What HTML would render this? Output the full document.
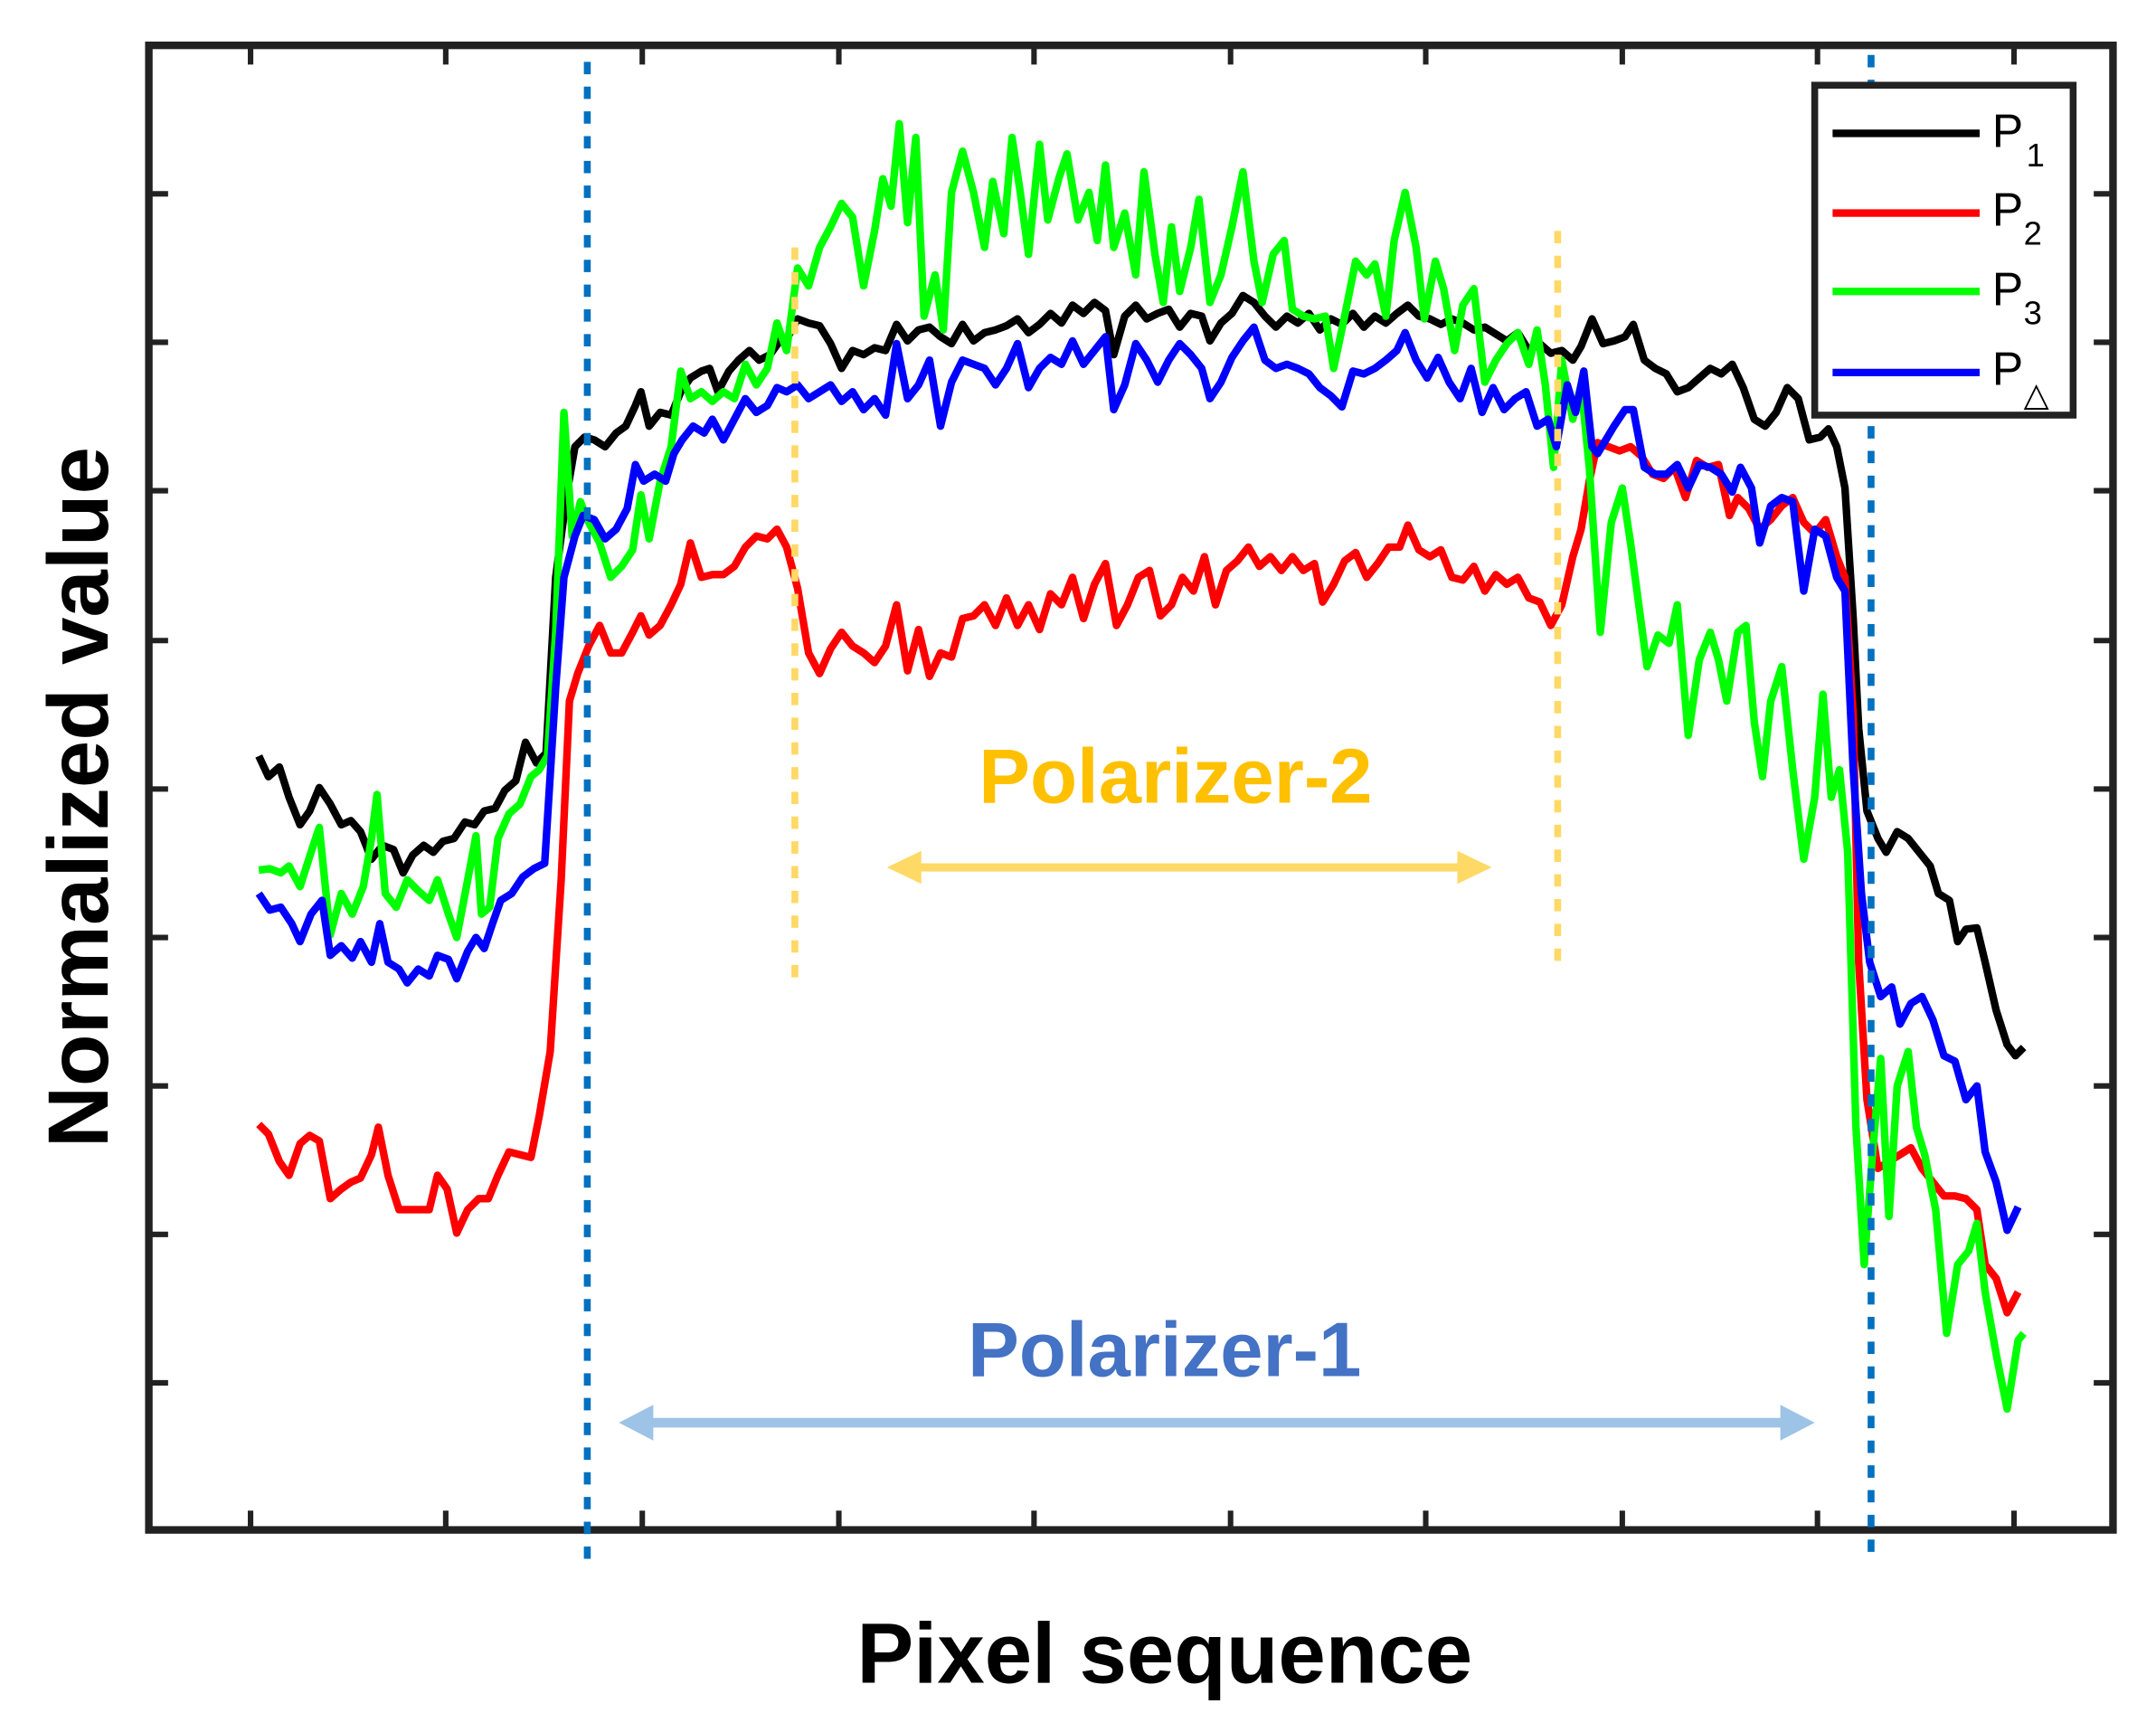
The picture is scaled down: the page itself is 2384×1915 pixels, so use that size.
<!DOCTYPE html>
<html><head><meta charset="utf-8"><style>html,body{margin:0;padding:0;background:#fff}svg{display:block}</style></head><body>
<svg width="2384" height="1915" viewBox="0 0 1568 1260" xmlns="http://www.w3.org/2000/svg" font-family="Liberation Sans, Arial, sans-serif">
<rect width="1568" height="1260" fill="#fff"/>
<g stroke="#222" stroke-width="4" fill="none">
<rect x="108" y="33" width="1429" height="1080" stroke-width="5.5"/>
<path d="M182,1113v-14M324,1113v-14M467,1113v-14M610,1113v-14M752,1113v-14M895,1113v-14M1037,1113v-14M1180,1113v-14M1322,1113v-14M1465,1113v-14
M182,33v14M324,33v14M467,33v14M610,33v14M752,33v14M895,33v14M1037,33v14M1180,33v14M1322,33v14M1465,33v14
M108,141h14M108,249h14M108,357h14M108,466h14M108,574h14M108,682h14M108,790h14M108,898h14M108,1006h14
M1537,141h-14M1537,249h-14M1537,357h-14M1537,466h-14M1537,574h-14M1537,682h-14M1537,790h-14M1537,898h-14M1537,1006h-14"/>
</g>
<g fill="none" stroke-width="5.5" stroke-linejoin="round">
<polyline stroke="#000" points="188,550 195,565 203,558 210,580 218,600 225,590 232,573 240,585 248,600 255,597 262,605 270,625 278,615 286,618 293,635 300,622 308,615 315,620 322,612 330,610 338,598 345,600 352,590 360,588 367,575 375,568 382,540 390,555 397,548 404,420 412,360 418,325 425,318 432,320 440,325 448,315 455,310 462,295 466,285 472,310 480,300 488,302 495,285 502,275 510,270 516,268 522,285 530,270 537,262 545,255 552,262 560,258 567,248 573,245 580,232 588,235 596,237 604,250 612,268 620,255 628,258 636,253 644,255 652,236 660,248 668,240 676,238 684,245 692,250 700,236 708,248 716,242 724,240 732,237 740,232 748,242 756,236 764,228 772,235 780,222 788,228 796,220 804,226 810,258 818,230 826,222 834,232 842,228 850,225 858,238 866,228 874,230 880,248 888,235 896,228 904,215 912,220 920,230 928,238 936,230 944,235 952,228 960,240 968,232 976,236 984,228 992,238 1000,230 1008,235 1016,228 1024,222 1032,230 1040,232 1048,236 1056,232 1064,235 1072,240 1080,238 1088,243 1096,248 1104,242 1112,255 1120,250 1128,257 1136,255 1144,262 1150,252 1158,232 1166,250 1174,248 1182,245 1188,236 1196,262 1204,268 1212,272 1220,285 1228,282 1236,275 1244,268 1252,272 1260,265 1268,282 1276,305 1284,310 1292,300 1300,282 1308,290 1316,320 1324,318 1330,312 1336,325 1342,355 1348,450 1352,530 1358,590 1366,610 1372,620 1380,605 1388,610 1396,620 1404,630 1410,650 1418,655 1424,685 1430,676 1438,675 1444,700 1452,735 1460,760 1466,768 1472,762"/>
<polyline stroke="#ff0000" points="188,818 195,825 203,845 210,855 218,832 225,826 232,830 240,872 248,865 255,860 262,857 270,840 275,820 282,855 290,880 298,880 306,880 312,880 318,855 325,865 332,897 340,880 348,872 355,872 362,855 370,838 378,840 386,842 392,812 400,765 408,640 414,510 420,490 428,470 436,455 444,475 452,475 460,460 466,448 472,462 480,455 488,440 495,425 502,395 510,420 518,418 526,418 534,412 542,398 550,390 558,392 565,385 572,398 580,428 588,475 596,490 604,472 612,460 620,470 628,475 636,482 644,470 652,440 660,488 668,458 676,492 684,475 692,478 700,450 708,448 716,440 724,455 732,435 740,455 748,440 756,458 764,432 772,440 780,420 788,450 796,425 804,410 812,455 820,440 828,420 836,415 844,448 852,440 860,420 868,430 876,405 884,440 892,415 900,408 908,398 916,412 924,405 932,415 940,405 948,415 956,410 962,438 970,425 978,408 986,402 994,420 1002,410 1010,398 1018,398 1024,382 1032,400 1040,405 1048,400 1056,420 1064,422 1072,412 1080,430 1088,418 1096,425 1104,420 1112,435 1120,438 1128,455 1136,440 1144,405 1150,385 1156,350 1162,322 1170,325 1178,328 1186,325 1194,332 1202,345 1210,348 1218,340 1226,362 1234,335 1242,340 1250,338 1258,375 1264,362 1272,370 1280,385 1288,378 1296,368 1304,362 1312,380 1320,388 1328,378 1336,405 1342,420 1348,520 1352,700 1358,800 1366,850 1374,845 1382,840 1390,835 1398,850 1406,860 1414,870 1422,870 1430,872 1438,880 1444,920 1452,930 1460,955 1468,940"/>
<polyline stroke="#00ff00" points="188,633 196,632 204,635 210,630 218,645 226,620 232,602 240,680 248,650 256,665 264,645 270,610 274,578 280,650 288,660 296,640 304,648 312,655 318,640 326,665 332,682 340,640 346,608 350,665 356,660 362,610 370,592 378,585 386,565 392,560 398,550 404,460 410,300 416,390 422,365 428,380 436,395 444,420 452,412 460,400 466,360 472,392 480,350 488,325 495,270 502,290 510,285 518,292 526,285 534,290 542,265 550,280 558,268 565,235 572,255 580,195 588,208 596,180 604,165 612,148 620,158 628,208 636,168 642,130 648,150 654,90 660,162 666,100 672,230 680,200 686,240 692,140 700,110 708,140 716,180 722,132 730,170 736,100 742,140 748,185 756,105 762,160 770,130 776,112 784,160 792,140 798,175 804,120 810,180 818,155 826,200 832,125 840,185 846,220 852,165 858,212 866,180 872,145 880,220 888,200 896,165 904,125 912,190 918,220 926,185 934,175 940,225 948,230 956,232 964,230 970,268 978,230 986,190 994,200 1000,192 1008,230 1014,175 1022,140 1030,180 1036,232 1044,190 1050,210 1058,255 1064,222 1072,210 1080,278 1088,262 1096,250 1104,242 1112,265 1118,240 1124,280 1130,340 1136,262 1144,305 1150,280 1156,340 1164,460 1172,380 1180,355 1186,395 1192,440 1198,485 1206,462 1214,468 1220,440 1228,535 1236,480 1244,460 1250,480 1256,510 1264,460 1270,455 1276,525 1282,565 1288,510 1296,485 1304,560 1312,625 1320,580 1326,505 1332,580 1338,560 1344,620 1350,820 1356,920 1362,840 1368,770 1374,885 1380,790 1388,765 1394,820 1400,840 1408,880 1416,970 1424,920 1432,910 1438,890 1444,940 1452,985 1460,1025 1468,975 1472,970"/>
<polyline stroke="#0000ff" points="188,650 196,662 204,660 212,672 218,685 226,665 234,655 240,695 248,688 256,697 262,685 270,700 276,672 282,700 290,705 296,715 304,705 312,710 318,695 326,698 332,712 340,692 346,682 352,690 358,672 364,655 372,650 380,638 388,632 396,628 404,500 410,420 418,390 424,375 432,378 440,392 448,385 456,370 462,338 468,350 476,345 484,350 490,330 496,320 504,310 512,315 518,305 526,320 534,305 542,290 550,300 558,295 565,282 572,285 580,280 588,290 596,285 604,280 612,292 620,285 628,298 636,290 644,302 652,250 660,290 668,280 676,262 684,310 692,278 700,262 708,265 716,268 724,280 732,268 740,250 748,282 756,268 764,260 772,265 780,248 788,265 796,255 804,245 810,298 818,280 826,250 834,262 842,278 850,262 858,250 866,258 874,268 880,290 888,278 896,260 904,248 912,238 920,262 928,268 936,265 944,268 952,272 960,282 968,288 976,296 984,270 992,272 1000,268 1008,262 1016,255 1022,242 1030,262 1038,275 1046,260 1054,278 1062,290 1070,268 1078,300 1086,282 1094,298 1102,290 1110,285 1118,310 1126,305 1132,325 1140,280 1146,300 1152,270 1158,325 1162,330 1168,320 1174,310 1182,298 1188,298 1196,340 1204,345 1212,345 1220,338 1228,355 1236,338 1244,340 1252,345 1260,358 1266,340 1274,355 1280,395 1288,368 1296,362 1304,365 1312,430 1320,385 1328,390 1336,420 1342,430 1348,560 1354,650 1360,700 1368,725 1376,718 1382,745 1390,730 1398,725 1406,742 1414,768 1422,772 1430,800 1438,790 1444,838 1452,860 1460,895 1468,878"/>
</g>
<g fill="none" stroke-width="5" stroke-dasharray="9 9">
<line x1="427" y1="45" x2="427" y2="1138" stroke="#0070c0"/>
<line x1="1361" y1="40" x2="1361" y2="1138" stroke="#0070c0"/>
<line x1="578" y1="180" x2="578" y2="712" stroke="#ffd966"/>
<line x1="1133" y1="168" x2="1133" y2="700" stroke="#ffd966"/>
</g>
<g>
<line x1="665" y1="631" x2="1065" y2="631" stroke="#ffd966" stroke-width="6"/>
<polygon points="645,631 670,619 670,643" fill="#ffd966"/>
<polygon points="1085,631 1060,619 1060,643" fill="#ffd966"/>
<line x1="470" y1="1035" x2="1300" y2="1035" stroke="#9dc3e6" stroke-width="7"/>
<polygon points="450,1035 475,1022 475,1048" fill="#9dc3e6"/>
<polygon points="1320,1035 1295,1022 1295,1048" fill="#9dc3e6"/>
</g>
<text x="855" y="584" font-size="56" font-weight="bold" fill="#ffc000" text-anchor="middle">Polarizer-2</text>
<text x="847" y="1001" font-size="56" font-weight="bold" fill="#4472c4" text-anchor="middle">Polarizer-1</text>
<text x="847" y="1224" font-size="62" font-weight="bold" fill="#000" text-anchor="middle">Pixel sequence</text>
<text transform="translate(78,580) rotate(-90)" font-size="62" font-weight="bold" fill="#000" text-anchor="middle">Normalized value</text>
<rect x="1320" y="62" width="188" height="240" fill="#fff" stroke="#222" stroke-width="5"/>
<g stroke-width="5.5">
<line x1="1333" y1="97" x2="1440" y2="97" stroke="#000"/>
<line x1="1333" y1="155" x2="1440" y2="155" stroke="#ff0000"/>
<line x1="1333" y1="212" x2="1440" y2="212" stroke="#00ff00"/>
<line x1="1333" y1="271" x2="1440" y2="271" stroke="#0000ff"/>
</g>
<g font-size="34" fill="#000">
<text x="1449" y="107">P</text><text x="1474" y="121" font-size="24">1</text>
<text x="1449" y="164">P</text><text x="1472" y="178" font-size="24">2</text>
<text x="1449" y="222">P</text><text x="1472" y="236" font-size="24">3</text>
<text x="1449" y="280">P</text><text x="1472" y="295" font-size="24">△</text>
</g>
</svg>
</body></html>
